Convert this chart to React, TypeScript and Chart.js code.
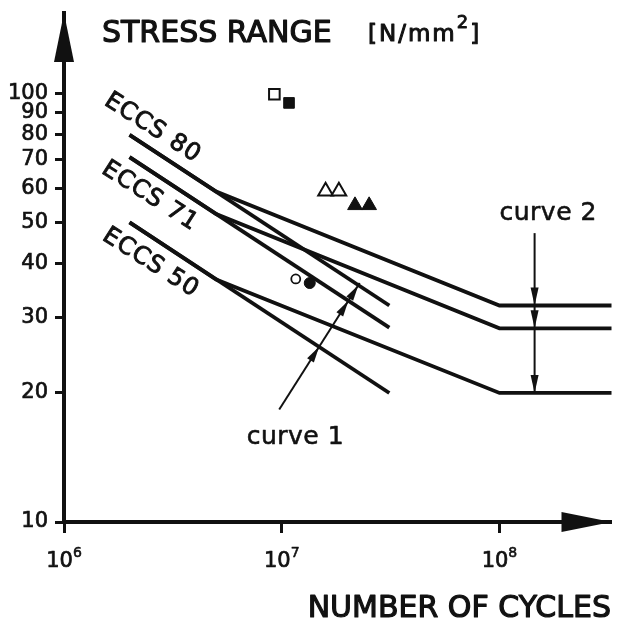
import { useEffect, useRef } from 'react';
import { Chart, registerables } from 'chart.js';

Chart.register(...registerables);

const INK = '#111111';
const FONT = '"DejaVu Sans", "Liberation Sans", sans-serif';

// ---- axes ----
const xMin = 1e6;
const xMax = 3.27e8;
const yMin = 10;
const yMax = 154;
const xTickValues = [1e6, 1e7, 1e8];
const xTickBases = ['10', '10', '10'];
const xTickExponents = ['6', '7', '8'];
const yTickValues = [10, 20, 30, 40, 50, 60, 70, 80, 90, 100];
const yTickLabels = ['10', '20', '30', '40', '50', '60', '70', '80', '90', '100'];

// ---- curve 2 (ECCS, with knee at 5e6 and cut-off at 1e8) ----
const curve2Cycles = [2e6, 5e6, 1e8, 3.3e8];
const curve2Eccs80 = [80, 59, 32, 32];
const curve2Eccs71 = [71, 52.3, 28.3, 28.3];
const curve2Eccs50 = [50, 36.8, 20, 20];

// ---- curve 1 (single slope) ----
const curve1Cycles = [2e6, 3.12e7];
const curve1Eccs80 = [80, 32];
const curve1Eccs71 = [71, 28.4];
const curve1Eccs50 = [50, 20];

// ---- test results ----
const openSquareCycles = [9.25e6];
const openSquareStress = [99.5];
const filledSquareCycles = [1.08e7];
const filledSquareStress = [95];
const openTriangleCycles = [1.59e7, 1.83e7];
const openTriangleStress = [59.1, 59.1];
const filledTriangleCycles = [2.17e7, 2.52e7];
const filledTriangleStress = [54.8, 54.8];
const openCircleCycles = [1.16e7];
const openCircleStress = [36.9];
const filledCircleCycles = [1.345e7];
const filledCircleStress = [36.1];

// ---- labels ----
const eccsNames = ['ECCS 80', 'ECCS 71', 'ECCS 50'];
const yTitleMain = 'STRESS RANGE';
const yTitleUnit = '[N/mm';
const yTitleSup = '2';
const yTitleClose = ']';
const xTitle = 'NUMBER OF CYCLES';
const curve1Name = 'curve 1';
const curve2Name = 'curve 2';

// annotation anchors (data coordinates)
const eccsAnchors = [
  { x: 2.55e6, y: 83.0 },
  { x: 2.48e6, y: 57.5 },
  { x: 2.5e6, y: 40.2 },
];
const curve1TextAnchor = { x: 6.9e6, y: 15.2 };
const curve2TextAnchor = { x: 1.0e8, y: 50.6 };
const curve1ArrowFrom = { x: 9.74e6, y: 18.3 };
const curve1ArrowTo = { x: 2.28e7, y: 36.1 };
const curve2ArrowX = 1.45e8;
const curve2ArrowTop = 47.2;
const curve2ArrowBottom = 20;

const pts = (xs: number[], ys: number[]) => xs.map((x, i) => ({ x, y: ys[i] }));

type P = { x: number; y: number };

function intersect(a: P, b: P, c: P, d: P): P | null {
  const rx = b.x - a.x, ry = b.y - a.y;
  const sx = d.x - c.x, sy = d.y - c.y;
  const den = rx * sy - ry * sx;
  if (Math.abs(den) < 1e-9) return null;
  const t = ((c.x - a.x) * sy - (c.y - a.y) * sx) / den;
  const u = ((c.x - a.x) * ry - (c.y - a.y) * rx) / den;
  if (t < -0.001 || t > 1.001 || u < -0.001 || u > 1.001) return null;
  return { x: a.x + t * rx, y: a.y + t * ry };
}

function head(ctx: CanvasRenderingContext2D, tx: number, ty: number, ang: number, len: number, hw: number) {
  const bx = tx - Math.cos(ang) * len;
  const by = ty - Math.sin(ang) * len;
  const nx = -Math.sin(ang) * hw;
  const ny = Math.cos(ang) * hw;
  ctx.beginPath();
  ctx.moveTo(tx, ty);
  ctx.lineTo(bx + nx, by + ny);
  ctx.lineTo(bx - nx, by - ny);
  ctx.closePath();
  ctx.fill();
}

// heavy text: fill plus a thin outline, like the scanned lettering
function heavyText(ctx: CanvasRenderingContext2D, text: string, x: number, y: number, w = 0.9) {
  ctx.lineWidth = w;
  ctx.lineJoin = 'round';
  ctx.strokeText(text, x, y);
  ctx.fillText(text, x, y);
}

const decorations = {
  id: 'snDecorations',
  afterDatasetsDraw(chart: any) {
    const { ctx, chartArea: ca, scales } = chart;
    const sx = scales.x;
    const sy = scales.y;
    const toPx = (p: P): P => ({ x: sx.getPixelForValue(p.x), y: sy.getPixelForValue(p.y) });
    ctx.save();
    ctx.fillStyle = INK;
    ctx.strokeStyle = INK;

    // axis arrowheads
    head(ctx, ca.left, ca.top, -Math.PI / 2, 49, 10);
    head(ctx, ca.right, ca.bottom, 0, 50, 10);

    // curve 1 arrow
    const a = toPx(curve1ArrowFrom);
    const b = toPx(curve1ArrowTo);
    ctx.lineWidth = 2;
    ctx.beginPath();
    ctx.moveTo(a.x, a.y);
    ctx.lineTo(b.x, b.y);
    ctx.stroke();
    const ang1 = Math.atan2(b.y - a.y, b.x - a.x);
    [curve1Eccs80, curve1Eccs71, curve1Eccs50].forEach((s) => {
      const line = pts(curve1Cycles, s).map(toPx);
      for (let i = 0; i < line.length - 1; i++) {
        const hit = intersect(a, b, line[i], line[i + 1]);
        if (hit) head(ctx, hit.x, hit.y, ang1, 16, 4);
      }
    });

    // curve 2 arrow
    const c = toPx({ x: curve2ArrowX, y: curve2ArrowTop });
    const d = toPx({ x: curve2ArrowX, y: curve2ArrowBottom });
    ctx.lineWidth = 2;
    ctx.beginPath();
    ctx.moveTo(c.x, c.y);
    ctx.lineTo(d.x, d.y);
    ctx.stroke();
    [curve2Eccs80, curve2Eccs71, curve2Eccs50].forEach((s) => {
      const line = pts(curve2Cycles, s).map(toPx);
      for (let i = 0; i < line.length - 1; i++) {
        const hit = intersect(c, d, line[i], line[i + 1]);
        if (hit) head(ctx, hit.x, hit.y, Math.PI / 2, 18, 4);
      }
    });

    // x tick labels with real superscripts
    ctx.textBaseline = 'alphabetic';
    xTickValues.forEach((v, i) => {
      const cx = sx.getPixelForValue(v);
      ctx.font = `21px ${FONT}`;
      const wb = ctx.measureText(xTickBases[i]).width;
      ctx.font = `14px ${FONT}`;
      const we = ctx.measureText(xTickExponents[i]).width;
      const left = cx - (wb + we) / 2;
      ctx.textAlign = 'left';
      ctx.font = `21px ${FONT}`;
      heavyText(ctx, xTickBases[i], left, 567, 0.7);
      ctx.font = `14px ${FONT}`;
      heavyText(ctx, xTickExponents[i], left + wb, 557, 0.6);
    });

    // ECCS labels
    ctx.font = `24px ${FONT}`;
    (ctx as any).letterSpacing = '1px';
    ctx.textAlign = 'center';
    ctx.textBaseline = 'middle';
    eccsNames.forEach((name, i) => {
      const p = toPx(eccsAnchors[i]);
      ctx.save();
      ctx.translate(p.x, p.y);
      ctx.rotate((32.5 * Math.PI) / 180);
      heavyText(ctx, name, 0, 0, 0.9);
      ctx.restore();
    });

    // curve names
    (ctx as any).letterSpacing = '0.5px';
    ctx.textAlign = 'left';
    ctx.textBaseline = 'alphabetic';
    ctx.font = `25px ${FONT}`;
    const t1 = toPx(curve1TextAnchor);
    heavyText(ctx, curve1Name, t1.x, t1.y, 0.6);
    const t2 = toPx(curve2TextAnchor);
    heavyText(ctx, curve2Name, t2.x, t2.y, 0.6);

    // axis titles
    (ctx as any).letterSpacing = '0px';
    ctx.font = `30px ${FONT}`;
    heavyText(ctx, yTitleMain, 102, 42, 1.2);
    (ctx as any).letterSpacing = '2px';
    ctx.font = `23px ${FONT}`;
    let ux = 368;
    heavyText(ctx, yTitleUnit, ux, 41, 1);
    ux += ctx.measureText(yTitleUnit).width;
    ctx.font = `18px ${FONT}`;
    heavyText(ctx, yTitleSup, ux, 28, 0.9);
    ux += ctx.measureText(yTitleSup).width;
    ctx.font = `23px ${FONT}`;
    heavyText(ctx, yTitleClose, ux, 41, 1);

    (ctx as any).letterSpacing = '0px';
    ctx.font = `30px ${FONT}`;
    ctx.textAlign = 'right';
    heavyText(ctx, xTitle, 611, 617, 1.2);
    ctx.restore();
  },
};

export default function App() {
  const ref = useRef<HTMLCanvasElement>(null);
  useEffect(() => {
    if (!ref.current) return;
    Chart.defaults.font.family = FONT;
    Chart.defaults.color = INK;
    const lineDs = (xs: number[], ys: number[]) => ({
      data: pts(xs, ys),
      showLine: true,
      pointRadius: 0,
      borderColor: INK,
      borderWidth: 3.8,
      borderCapStyle: 'butt' as const,
      borderJoinStyle: 'miter' as const,
      tension: 0,
      fill: false,
    });
    const markerDs = (xs: number[], ys: number[], style: string, r: number, filled: boolean, bw: number) => ({
      data: pts(xs, ys),
      showLine: false,
      pointStyle: style,
      pointRadius: r,
      pointBackgroundColor: filled ? INK : '#ffffff',
      pointBorderColor: INK,
      pointBorderWidth: bw,
    });
    const chart = new Chart(ref.current, {
      type: 'scatter',
      data: {
        datasets: [
          markerDs(openSquareCycles, openSquareStress, 'rect', 7.5, false, 2),
          markerDs(filledSquareCycles, filledSquareStress, 'rect', 7.5, true, 1),
          markerDs(openTriangleCycles, openTriangleStress, 'triangle', 8.5, false, 2),
          markerDs(filledTriangleCycles, filledTriangleStress, 'triangle', 8.5, true, 1),
          markerDs(openCircleCycles, openCircleStress, 'circle', 4.5, false, 1.8),
          markerDs(filledCircleCycles, filledCircleStress, 'circle', 5.5, true, 1),
          lineDs(curve2Cycles, curve2Eccs80),
          lineDs(curve2Cycles, curve2Eccs71),
          lineDs(curve2Cycles, curve2Eccs50),
          lineDs(curve1Cycles, curve1Eccs80),
          lineDs(curve1Cycles, curve1Eccs71),
          lineDs(curve1Cycles, curve1Eccs50),
        ] as any,
      },
      options: {
        responsive: false,
        animation: false,
        events: [],
        layout: { padding: { top: 13, right: 1, bottom: 0, left: 0 } },
        plugins: { legend: { display: false }, tooltip: { enabled: false }, title: { display: false } },
        scales: {
          x: {
            type: 'logarithmic',
            min: xMin,
            max: xMax,
            afterBuildTicks: (s: any) => {
              s.ticks = xTickValues.map((v) => ({ value: v }));
            },
            afterFit: (s: any) => {
              s.height = 99;
              s.paddingLeft = 0;
              s.paddingRight = 0;
            },
            ticks: { display: false, autoSkip: false },
            grid: { drawOnChartArea: false, drawTicks: true, tickLength: 11, tickWidth: 3, tickColor: INK, color: INK },
            border: { display: true, color: INK, width: 4 },
          },
          y: {
            type: 'logarithmic',
            min: yMin,
            max: yMax,
            afterBuildTicks: (s: any) => {
              s.ticks = yTickValues.map((v) => ({ value: v }));
            },
            afterFit: (s: any) => {
              s.width = 64;
              s.paddingTop = 0;
              s.paddingBottom = 0;
            },
            ticks: {
              autoSkip: false,
              padding: 7,
              color: INK,
              textStrokeColor: INK,
              textStrokeWidth: 0.7,
              font: { family: FONT, size: 21 },
              callback: (_v: any, i: number) => yTickLabels[i],
            },
            grid: { drawOnChartArea: false, drawTicks: true, tickLength: 9, tickWidth: 3, tickColor: INK, color: INK },
            border: { display: true, color: INK, width: 4 },
          },
        },
      } as any,
      plugins: [decorations],
    });
    return () => chart.destroy();
  }, []);
  return (
    <div style={{ position: 'absolute', left: 0, top: 0, width: 622, height: 621, background: '#ffffff' }}>
      <canvas ref={ref} width={622} height={621} style={{ display: 'block', width: 622, height: 621 }} />
    </div>
  );
}
